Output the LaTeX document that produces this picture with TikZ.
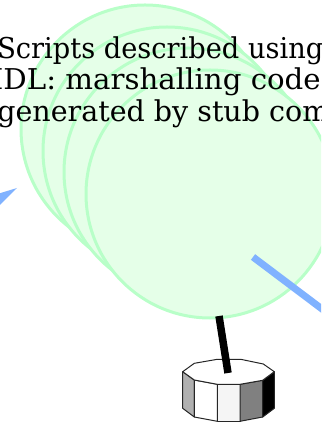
\documentclass[tikz,border=0pt]{standalone}
\usepackage{fontspec}
\usepackage{graphicx}
\setmainfont{DejaVu Serif}
\definecolor{blobfill}{RGB}{229,255,232}
\definecolor{blobline}{RGB}{184,255,200}
\definecolor{flowblue}{RGB}{128,178,255}
\tikzset{
  blob/.style={fill=blobfill,draw=blobline,line width=3*0.75pt},
  face/.style={draw=black!85,line width=0.75pt,line join=round},
  flow/.style={draw=flowblue,line width=7*0.75pt},
  link/.style={draw=black,line width=7.5*0.75pt},
  caption/.style={font=\fontsize{21.5pt}{23.8pt}\selectfont,align=left,anchor=north west,inner sep=0pt,text=black}
}
\begin{document}
\begin{tikzpicture}[x=0.75pt,y=-0.75pt]
\useasboundingbox (0,0) rectangle (321,423);
\clip (0,0) rectangle (321,423);
\draw[blob] (145,129) circle [radius=124*0.75pt];
\draw[blob] (167,151) circle [radius=124*0.75pt];
\draw[blob] (188,172) circle [radius=124*0.75pt];
\draw[blob] (210,194) circle [radius=124*0.75pt];
\node[caption] (note) at (-3,36) {\scalebox{0.95}[1]{Scripts described using}\\\hspace*{-4pt}\scalebox{1.02}[1]{IDL: marshalling code}\\\scalebox{0.995}[1]{generated by stub com}};
\coordinate (flowstart) at (253,257);
\coordinate (flowend) at (330,315);
\draw[flow] (flowstart) -- (flowend);
\fill[flowblue] (17,188) -- (-6,195) -- (-6,211) -- cycle;
\coordinate (linktop) at (219,316);
\coordinate (linkbot) at (228,373);
% drum
\draw[face,fill=black!31] (182.7,371.7) -- (194.3,380) -- (194.3,417) -- (182.7,408.3) -- cycle;
\draw[face,fill=white] (194.3,380) -- (217.3,384.3) -- (217.3,421.3) -- (194.3,417) -- cycle;
\draw[face,fill=black!4] (217.3,384.3) -- (240,384.3) -- (240,421.3) -- (217.3,421.3) -- cycle;
\draw[face,fill=black!50] (240,384.3) -- (262.7,380.3) -- (262.7,417) -- (240,421.3) -- cycle;
\draw[face,fill=black] (262.7,380.3) -- (274.3,371.7) -- (274.3,408.3) -- (262.7,417) -- cycle;
\draw[face,fill=white] (182.7,371.7) -- (194.3,363.3) -- (217.3,359.3) -- (240.7,359.3) -- (263.3,364) -- (274.3,371.7) -- (262.7,380.3) -- (240,384.3) -- (217.3,384.3) -- (194.3,380) -- cycle;
\draw[link] (linktop) -- (linkbot);
\end{tikzpicture}
\end{document}
